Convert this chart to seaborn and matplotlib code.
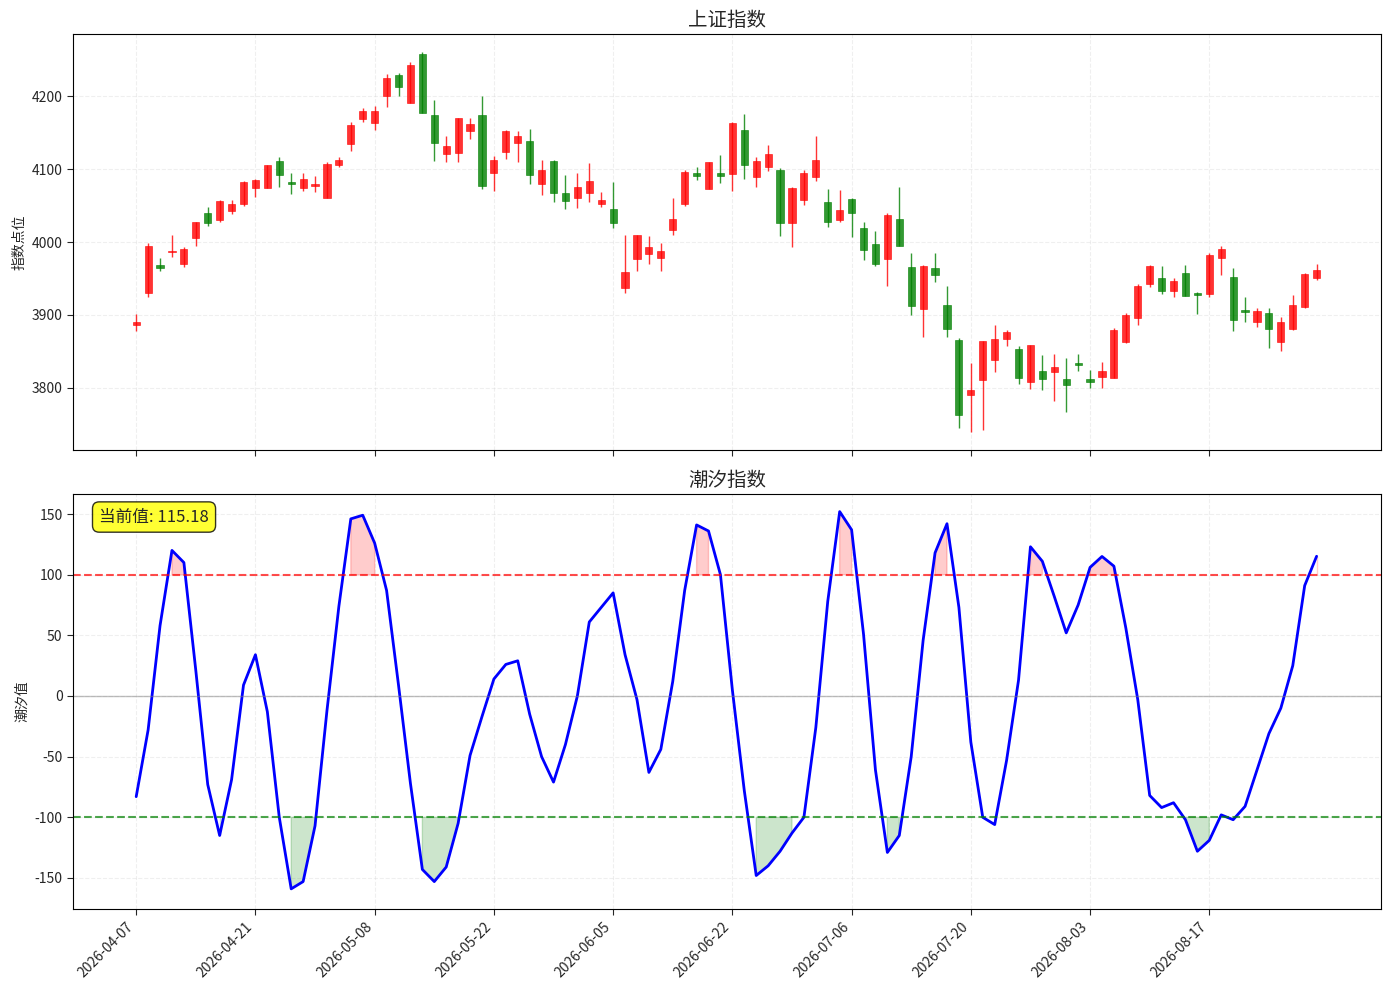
import matplotlib
matplotlib.use("Agg")
import matplotlib.pyplot as plt
import seaborn as sns
import numpy as np
import pandas as pd

sns.set_style("white")
plt.rcParams['font.family'] = ['Noto Sans CJK SC', 'DejaVu Sans']
plt.rcParams['axes.unicode_minus'] = False

opens = [3886,3930,3968,3986,3970,4005,4040,4030,4043,4052,4074,4074,4111,4082,4074,4077,4060,4105,4134,4168,
         4163,4200,4229,4190,4257,4174,4120,4122,4152,4174,4095,4124,4135,4138,4080,4111,4067,4060,4067,4052,
         4045,3937,3977,3984,3978,4016,4052,4095,4073,4095,4093,4153,4089,4103,4099,4026,4057,4089,4055,4030,
         4059,4019,3997,3977,4031,3966,3908,3965,3913,3866,3790,3811,3838,3867,3853,3808,3823,3822,3812,3834,
         3812,3815,3814,3863,3896,3942,3951,3933,3958,3930,3929,3978,3952,3907,3890,3903,3863,3881,3911,3950]
closes = [3891,3995,3965,3988,3990,4028,4026,4056,4052,4082,4085,4106,4092,4080,4086,4079,4107,4112,4160,4179,
          4179,4225,4212,4243,4177,4136,4132,4170,4162,4077,4112,4152,4145,4092,4099,4067,4056,4075,4084,4058,
          4026,3959,4010,3993,3988,4031,4096,4091,4109,4090,4163,4105,4111,4121,4026,4074,4095,4112,4027,4044,
          4040,3989,3970,4037,3995,3912,3967,3955,3881,3763,3797,3864,3867,3877,3813,3859,3812,3829,3804,3832,
          3808,3823,3880,3900,3940,3967,3933,3947,3926,3928,3982,3990,3893,3904,3905,3881,3891,3913,3956,3961]
highs = [3902,3998,3978,4010,3993,4028,4048,4057,4058,4083,4086,4106,4116,4094,4094,4090,4110,4116,4164,4183,
         4186,4230,4232,4246,4260,4194,4145,4170,4170,4200,4118,4154,4152,4155,4112,4112,4092,4095,4108,4068,
         4082,4010,4010,4008,3998,4060,4098,4103,4110,4119,4165,4176,4116,4133,4101,4076,4098,4145,4073,4071,
         4060,4028,4015,4040,4075,3985,3968,3985,3940,3868,3834,3865,3886,3879,3857,3859,3845,3846,3841,3846,
         3824,3836,3882,3903,3942,3968,3967,3950,3968,3932,3985,3994,3964,3925,3910,3910,3897,3928,3958,3970]
lows = [3878,3925,3960,3980,3966,3995,4022,4028,4038,4050,4062,4074,4075,4066,4070,4068,4060,4103,4125,4164,
        4154,4185,4200,4190,4177,4111,4110,4110,4141,4073,4070,4114,4110,4080,4065,4055,4045,4047,4055,4048,
        4019,3930,3960,3970,3960,4009,4050,4085,4072,4081,4070,4087,4076,4097,4008,3993,4051,4083,4020,4028,
        4007,3975,3967,3940,3995,3900,3870,3945,3870,3745,3740,3742,3822,3857,3805,3798,3797,3782,3767,3823,
        3800,3800,3814,3862,3886,3938,3929,3925,3926,3902,3925,3955,3878,3890,3883,3855,3850,3880,3909,3948]
tide = [-83,-28,58,120,110,21,-73,-115,-69,9,34,-13,-100,-159,-153,-107,-12,74,146,149,
        126,87,9,-72,-143,-153,-141,-105,-49,-17,14,26,29,-15,-50,-71,-40,0,61,73,
        85,34,-3,-63,-44,12,87,141,136,100,5,-78,-148,-140,-128,-113,-100,-26,78,152,
        137,51,-61,-129,-115,-50,46,118,142,73,-38,-100,-106,-53,13,123,111,82,52,75,
        106,115,107,56,-3,-82,-92,-88,-102,-128,-119,-98,-102,-91,-61,-31,-10,25,91,115.18]
tick_labels = ['2026-04-07','2026-04-21','2026-05-08','2026-05-22','2026-06-05',
               '2026-06-22','2026-07-06','2026-07-20','2026-08-03','2026-08-17']

x = np.arange(len(opens))
o = np.array(opens); c = np.array(closes); h = np.array(highs); l = np.array(lows)
up = c >= o
cols = np.where(up, 'red', 'green')

fig = plt.figure(figsize=(13.9, 9.9), dpi=100)
ax1 = fig.add_axes([73/1390, 1-450/990, 1308/1390, 416/990])
ax2 = fig.add_axes([73/1390, 1-909/990, 1308/1390, 415/990], sharex=ax1)

ax1.vlines(x, l, h, colors=cols, linewidth=1, alpha=0.8)
ax1.bar(x, np.maximum(np.abs(c - o), 0.8), bottom=np.minimum(o, c), width=0.6,
        color=cols, alpha=0.8, edgecolor=cols, linewidth=0.5)
ax1.set_ylim(3715, 4285)
ax1.set_title('上证指数', fontsize=14)
ax1.set_ylabel('指数点位', fontsize=10)
ax1.grid(True, linestyle='--', alpha=0.3)
plt.setp(ax1.get_xticklabels(), visible=False)

df = pd.DataFrame({'x': x, 'tide': tide})
sns.lineplot(data=df, x='x', y='tide', ax=ax2, color='blue', linewidth=2)
t = np.array(tide, dtype=float)
ax2.fill_between(x, t, 100, where=t > 100, color='red', alpha=0.2)
ax2.fill_between(x, t, -100, where=t < -100, color='green', alpha=0.2)
ax2.axhline(100, color='red', linestyle='--', alpha=0.7, linewidth=1.5)
ax2.axhline(-100, color='green', linestyle='--', alpha=0.7, linewidth=1.5)
ax2.axhline(0, color='gray', linestyle='-', alpha=0.5, linewidth=1)
ax2.set_ylim(-175.6, 166.5)
ax2.set_xlim(-5.3, 104.4)
ax2.set_title('潮汐指数', fontsize=14)
ax2.set_ylabel('潮汐值', fontsize=10)
ax2.set_xlabel('')
ax2.grid(True, linestyle='--', alpha=0.3)
ax2.text(0.02, 0.965, f'当前值: {tide[-1]:.2f}', transform=ax2.transAxes, fontsize=12,
         va='top', bbox=dict(boxstyle='round,pad=0.4', facecolor='yellow', edgecolor='black', alpha=0.8))
ax2.set_xticks(np.arange(0, 100, 10))
ax2.set_xticklabels(tick_labels, rotation=45, ha='right')
for ax in (ax1, ax2):
    for s in ax.spines.values():
        s.set_color('black')
    ax.tick_params(axis='both', which='both', length=4, left=True, bottom=True)

fig.savefig('out.png', dpi=100)
